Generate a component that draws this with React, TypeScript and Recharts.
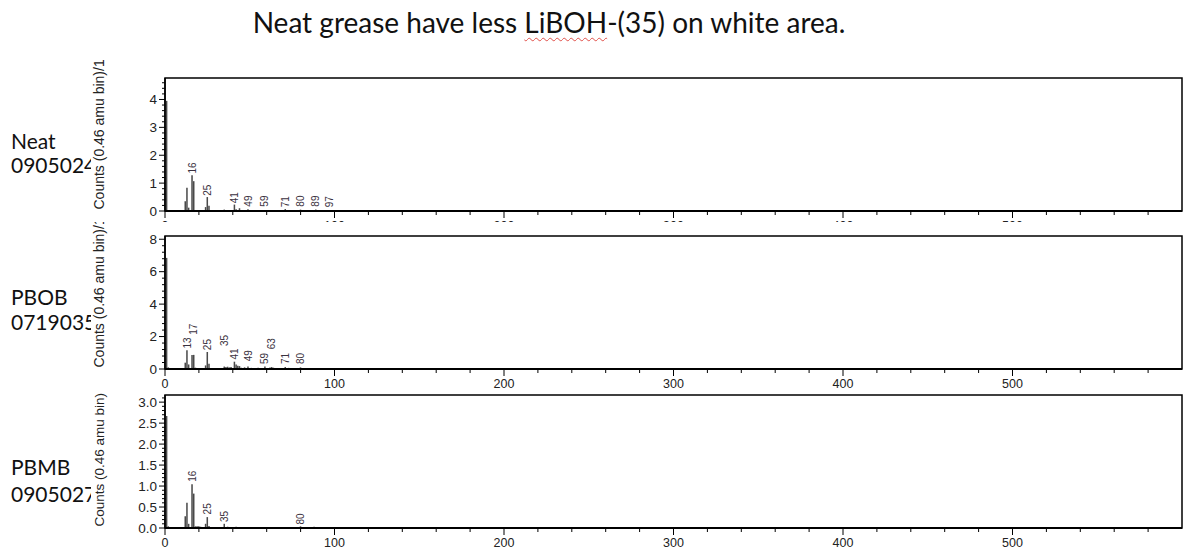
import React from 'react';
import { ComposedChart, Bar, Scatter, XAxis, YAxis, ReferenceArea } from 'recharts';

const TITLE_BEFORE = 'Neat grease have less ';
const TITLE_MARKED = 'LiBOH';
const TITLE_AFTER = '-(35) on white area.';
const Y_LABEL = 'Counts (0.46 amu bin)/1';
const Y_LABEL_LAST = 'Counts (0.46 amu bin)';

const X_TICKS = [0, 20, 40, 60, 80, 100, 120, 140, 160, 180, 200, 220, 240, 260, 280, 300, 320, 340, 360, 380, 400, 420, 440, 460, 480, 500, 520, 540, 560, 580];
const X_LABELED = [0, 100, 200, 300, 400, 500];

// Panel 1: Neat 0905024
const NEAT_NAME = ['Neat', '0905024'];
const NEAT_MASS = [1, 12, 13, 14, 16, 17, 24, 25, 26, 35, 41, 42, 44, 49, 59, 71, 80, 89, 97];
const NEAT_COUNTS = [3.95, 0.35, 0.83, 0.12, 1.28, 1.07, 0.14, 0.5, 0.19, 0.05, 0.23, 0.06, 0.1, 0.06, 0.04, 0.07, 0.05, 0.05, 0.03];
const NEAT_LABEL_MASS = [16, 25, 41, 49, 59, 71, 80, 89, 97];
const NEAT_LABEL_AT = [1.31, 0.51, 0.24, 0.12, 0.12, 0.1, 0.12, 0.12, 0.1];
const NEAT_Y_TICKS = [0, 0.2, 0.4, 0.6, 0.8, 1, 1.2, 1.4, 1.6, 1.8, 2, 2.2, 2.4, 2.6, 2.8, 3, 3.2, 3.4, 3.6, 3.8, 4, 4.2, 4.4, 4.6];
const NEAT_Y_LABELED = [0, 1, 2, 3, 4];

// Panel 2: PBOB 0719035
const PBOB_NAME = ['PBOB', '0719035'];
const PBOB_MASS = [1, 2, 12, 13, 14, 15, 16, 17, 18, 24, 25, 26, 27, 29, 35, 36, 37, 38, 39, 41, 42, 43, 44, 45, 47, 49, 51, 53, 55, 57, 59, 61, 62, 63, 64, 65, 67, 69, 71, 73, 75, 77, 79, 80, 81, 85, 89, 93, 97, 99, 105, 108, 112, 117, 121, 125, 133, 139, 145, 152, 166, 176, 184, 198, 326];
const PBOB_COUNTS = [6.85, 0.1, 0.39, 1.15, 0.28, 0.06, 0.87, 0.87, 0.08, 0.22, 1.05, 0.32, 0.06, 0.05, 0.15, 0.12, 0.14, 0.1, 0.12, 0.45, 0.28, 0.2, 0.18, 0.08, 0.1, 0.15, 0.07, 0.06, 0.08, 0.06, 0.15, 0.06, 0.1, 0.12, 0.08, 0.05, 0.06, 0.05, 0.12, 0.07, 0.05, 0.06, 0.05, 0.1, 0.05, 0.04, 0.05, 0.04, 0.06, 0.05, 0.04, 0.05, 0.04, 0.05, 0.04, 0.05, 0.04, 0.05, 0.04, 0.04, 0.04, 0.04, 0.04, 0.04, 0.05];
const PBOB_LABEL_MASS = [13, 17, 25, 35, 41, 49, 59, 63, 71, 80];
const PBOB_LABEL_AT = [1.2, 2.05, 1.1, 1.35, 0.52, 0.42, 0.24, 1.15, 0.24, 0.24];
const PBOB_Y_TICKS = [0, 0.4, 0.8, 1.2, 1.6, 2, 2.4, 2.8, 3.2, 3.6, 4, 4.4, 4.8, 5.2, 5.6, 6, 6.4, 6.8, 7.2, 7.6, 8];
const PBOB_Y_LABELED = [0, 2, 4, 6, 8];

// Panel 3: PBMB 0905027
const PBMB_NAME = ['PBMB', '0905027'];
const PBMB_MASS = [1, 2, 12, 13, 14, 16, 17, 18, 19, 20, 21, 24, 25, 26, 29, 35, 37, 39, 42, 45, 49, 55, 60, 63, 68, 72, 80, 87, 88, 98, 105, 106, 125, 140, 182];
const PBMB_COUNTS = [2.67, 0.04, 0.28, 0.6, 0.1, 1.04, 0.82, 0.04, 0.04, 0.04, 0.03, 0.1, 0.26, 0.05, 0.02, 0.1, 0.03, 0.02, 0.03, 0.02, 0.02, 0.02, 0.02, 0.02, 0.02, 0.02, 0.04, 0.02, 0.03, 0.02, 0.02, 0.02, 0.02, 0.02, 0.02];
const PBMB_LABEL_MASS = [16, 25, 35, 80];
const PBMB_LABEL_AT = [1.08, 0.3, 0.12, 0.06];
const PBMB_Y_TICKS = [0, 0.1, 0.2, 0.3, 0.4, 0.5, 0.6, 0.7, 0.8, 0.9, 1, 1.1, 1.2, 1.3, 1.4, 1.5, 1.6, 1.7, 1.8, 1.9, 2, 2.1, 2.2, 2.3, 2.4, 2.5, 2.6, 2.7, 2.8, 2.9, 3, 3.1];
const PBMB_Y_LABELED = [0, 0.5, 1, 1.5, 2, 2.5, 3];

const AXIS_FONT = '"Liberation Sans", Arial, sans-serif';

type PanelProps = {
  top: number;
  height: number;
  marginTop: number;
  xAxisHeight: number;
  mass: number[];
  counts: number[];
  labelMass: number[];
  labelAt: number[];
  yMax: number;
  yTicks: number[];
  yLabeled: number[];
  yDecimals: number;
  yLabel: string;
  yLabelSize: number;
};

const XTick = (props: any) => {
  const { x, y, payload } = props;
  const major = X_LABELED.includes(payload.value);
  return (
    <g>
      <line x1={x} x2={x} y1={y} y2={y + (major ? 7 : 4)} stroke="#000" strokeWidth={1} />
      {major && (
        <text x={x} y={y + 18.5} textAnchor="middle" fontSize={12.5} fontFamily={AXIS_FONT} fill="#222">
          {payload.value}
        </text>
      )}
    </g>
  );
};

const makeYTick = (labeled: number[], decimals: number) => (props: any) => {
  const { x, y, payload } = props;
  const major = labeled.some((v) => Math.abs(v - payload.value) < 1e-9);
  return (
    <g>
      <line x1={x} x2={x - (major ? 6 : 3)} y1={y} y2={y} stroke="#000" strokeWidth={1} />
      {major && (
        <text x={x - 8} y={y + 4.5} textAnchor="end" fontSize={13.5} fontFamily={AXIS_FONT} fill="#222">
          {payload.value.toFixed(decimals)}
        </text>
      )}
    </g>
  );
};

const PeakLabel = (props: any) => {
  const { cx, cy, payload } = props;
  if (cx == null || cy == null) return <g />;
  const tx = cx + 3.5;
  const ty = cy - 1;
  return (
    <text
      x={tx}
      y={ty}
      transform={`rotate(-90 ${tx} ${ty})`}
      fontSize={10}
      fontFamily={AXIS_FONT}
      fill="#3a3140"
    >
      {payload.lab}
    </text>
  );
};

const Panel = (p: PanelProps) => {
  const data = p.mass.map((m, i) => ({ m, c: p.counts[i] }));
  const labels = p.labelMass.map((m, i) => ({ m, at: p.labelAt[i], lab: String(m) }));
  const YTick = makeYTick(p.yLabeled, p.yDecimals);
  return (
    <div style={{ position: 'absolute', left: 0, top: p.top, width: 1200, height: p.height, background: '#fff' }}>
      <ComposedChart
        width={1200}
        height={p.height}
        data={data}
        margin={{ top: p.marginTop, right: 18, bottom: 0, left: 105 }}
      >
        <XAxis
          dataKey="m"
          type="number"
          domain={[0, 600]}
          allowDataOverflow
          ticks={X_TICKS}
          interval={0}
          tickSize={0}
          tickMargin={0}
          height={p.xAxisHeight}
          tick={<XTick />}
          axisLine={{ stroke: '#000', strokeWidth: 2 }}
          tickLine={false}
        />
        <YAxis
          type="number"
          domain={[0, p.yMax]}
          allowDataOverflow
          ticks={p.yTicks}
          interval={0}
          tickSize={0}
          tickMargin={0}
          width={60}
          tick={<YTick />}
          tickLine={false}
          axisLine={{ stroke: '#000', strokeWidth: 1.5 }}
          label={{
            content: (lp: any) => {
              const vb = lp.viewBox || {};
              const lx = 104;
              const ly = (vb.y || 0) + (vb.height || 0) - 1.5;
              return (
                <text
                  x={lx}
                  y={ly}
                  transform={`rotate(-90 ${lx} ${ly})`}
                  fontSize={p.yLabelSize}
                  fontFamily={AXIS_FONT}
                  fill="#222"
                >
                  {p.yLabel}
                </text>
              );
            },
          }}
        />
        <ReferenceArea x1={0} x2={600} y1={0} y2={p.yMax} fill="none" stroke="#000" strokeWidth={1.5} ifOverflow="visible" />
        <Bar dataKey="c" fill="#4a4a4a" barSize={2} isAnimationActive={false} />
        <Scatter data={labels} dataKey="at" shape={<PeakLabel />} isAnimationActive={false} />
      </ComposedChart>
    </div>
  );
};

const nameStyle = (top: number): React.CSSProperties => ({
  position: 'absolute',
  left: 11,
  top,
  width: 80,
  overflow: 'hidden',
  whiteSpace: 'nowrap',
  fontFamily: 'Lato, "Open Sans", sans-serif',
  fontSize: 21,
  lineHeight: '25px',
  color: '#111',
});

export default function App() {
  return (
    <div style={{ position: 'absolute', left: 0, top: 0, width: 1200, height: 554, overflow: 'hidden', background: '#fff' }}>
      <div
        style={{
          position: 'absolute',
          left: 49,
          top: 5,
          width: 1000,
          textAlign: 'center',
          fontFamily: 'Lato, "Open Sans", sans-serif',
          fontSize: 28,
          lineHeight: '34px',
          color: '#111',
          whiteSpace: 'nowrap',
        }}
      >
        {TITLE_BEFORE}
        <span style={{ textDecoration: 'underline wavy #e0504a', textDecorationThickness: '1px', textUnderlineOffset: '4px' }}>
          {TITLE_MARKED}
        </span>
        {TITLE_AFTER}
      </div>

      <Panel
        top={60}
        height={181}
        marginTop={18}
        xAxisHeight={30}
        mass={NEAT_MASS}
        counts={NEAT_COUNTS}
        labelMass={NEAT_LABEL_MASS}
        labelAt={NEAT_LABEL_AT}
        yMax={4.77}
        yTicks={NEAT_Y_TICKS}
        yLabeled={NEAT_Y_LABELED}
        yDecimals={0}
        yLabel={Y_LABEL}
        yLabelSize={14}
      />
      <Panel
        top={222}
        height={177}
        marginTop={14}
        xAxisHeight={30}
        mass={PBOB_MASS}
        counts={PBOB_COUNTS}
        labelMass={PBOB_LABEL_MASS}
        labelAt={PBOB_LABEL_AT}
        yMax={8.2}
        yTicks={PBOB_Y_TICKS}
        yLabeled={PBOB_Y_LABELED}
        yDecimals={0}
        yLabel={Y_LABEL}
        yLabelSize={14}
      />
      <Panel
        top={388}
        height={166}
        marginTop={7}
        xAxisHeight={26}
        mass={PBMB_MASS}
        counts={PBMB_COUNTS}
        labelMass={PBMB_LABEL_MASS}
        labelAt={PBMB_LABEL_AT}
        yMax={3.17}
        yTicks={PBMB_Y_TICKS}
        yLabeled={PBMB_Y_LABELED}
        yDecimals={1}
        yLabel={Y_LABEL_LAST}
        yLabelSize={13.5}
      />

      <div style={nameStyle(128)}>{NEAT_NAME[0]}</div>
      <div style={nameStyle(152)}>{NEAT_NAME[1]}</div>
      <div style={nameStyle(284)}>{PBOB_NAME[0]}</div>
      <div style={nameStyle(309)}>{PBOB_NAME[1]}</div>
      <div style={nameStyle(454)}>{PBMB_NAME[0]}</div>
      <div style={nameStyle(481)}>{PBMB_NAME[1]}</div>
    </div>
  );
}
